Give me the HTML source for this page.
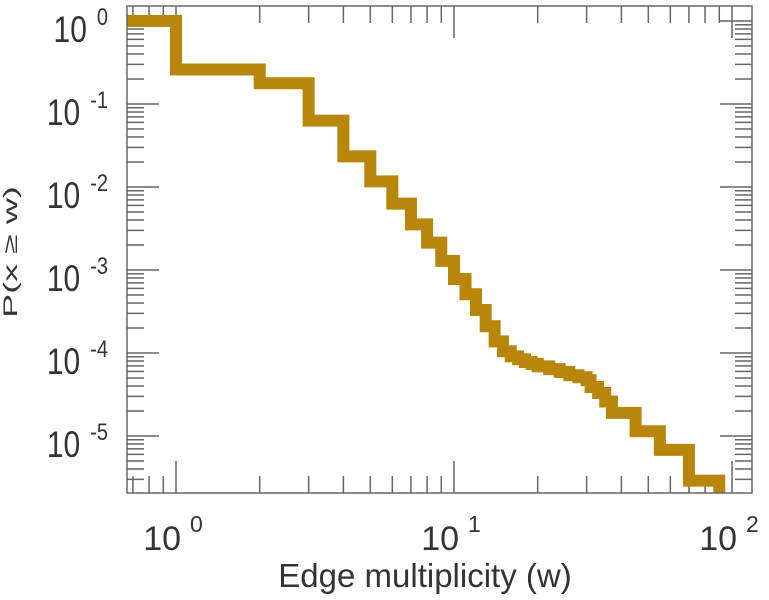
<!DOCTYPE html>
<html><head><meta charset="utf-8">
<style>
html,body{margin:0;padding:0;background:#fff;}
svg{display:block;font-family:"Liberation Sans",sans-serif;}
</style></head>
<body>
<svg id="chart" width="769" height="600" viewBox="0 0 769 600" xmlns="http://www.w3.org/2000/svg">
  <g id="ticks"></g>
  <g id="series"></g>
  <rect x="127" y="6" width="625" height="487" fill="none" stroke="#666" stroke-width="1.5"/>
  <g id="labels"></g>
  <text x="425" y="587" font-size="33" text-anchor="middle" fill="#333">Edge multiplicity (w)</text>
  <text transform="translate(17,252) scale(0.55,1) rotate(-90)" font-size="36" text-anchor="middle" fill="#333">P(x ≥ w)</text>
</svg>
<script>
const stepW = [0.667, 1, 2, 3, 4, 5, 6, 7, 8, 9, 10, 11, 12, 13, 14, 15, 16, 17, 18, 19, 20, 22, 24, 26, 28, 30, 31, 33, 35, 37, 45, 55, 70, 90];
const stepP = [1.0, 0.26, 0.178, 0.063, 0.0234, 0.0117, 0.0063, 0.00355, 0.00214, 0.00129, 0.00078, 0.00051, 0.00033, 0.00021, 0.000138, 0.000105, 0.000091, 0.000084, 0.000078, 0.000074, 0.000069, 0.000064, 0.000059, 0.000054, 0.000051, 0.000047, 0.000039, 0.000033, 0.000026, 0.000019, 0.0000114, 0.0000068, 0.0000029];
const xTickExp = ["0", "1", "2"];
const yTickExp = ["0", "-1", "-2", "-3", "-4", "-5"];

const NS = "http://www.w3.org/2000/svg";
const L = 127, R = 752, T = 6, B = 493;
function xs(w){ return 176 + 278 * Math.log10(w); }
function ys(p){ return 21 - 83 * Math.log10(p); }

function mk(tag, attrs, parent){
  const e = document.createElementNS(NS, tag);
  for (const k in attrs) e.setAttribute(k, attrs[k]);
  parent.appendChild(e);
  return e;
}

const tg = document.getElementById('ticks');
for (let d = -1; d <= 2; d++) {
  for (let m = 1; m <= 9; m++) {
    const w = m * Math.pow(10, d);
    const x = xs(w);
    if (x < L || x > R) continue;
    const len = m === 1 ? 32 : 17;
    const t1 = mk('line', {x1:x, x2:x, y1:B, y2:B-len, stroke:'#666', 'stroke-width':1.5}, tg);
    
    
    const t2 = mk('line', {x1:x, x2:x, y1:T, y2:T+len, stroke:'#666', 'stroke-width':1.5}, tg);
    
    
  }
}
for (let d = -6; d <= 0; d++) {
  for (let m = 1; m <= 9; m++) {
    const p = m * Math.pow(10, d);
    const y = ys(p);
    if (y < T || y > B) continue;
    const len = m === 1 ? 32 : 17;
    const t1 = mk('line', {x1:L, x2:L+len, y1:y, y2:y, stroke:'#666', 'stroke-width':1.5}, tg);
    
    
    const t2 = mk('line', {x1:R, x2:R-len, y1:y, y2:y, stroke:'#666', 'stroke-width':1.5}, tg);
    
    
  }
}

let d = '';
for (let i = 0; i < stepP.length; i++) {
  const x0 = Math.max(xs(stepW[i]), L), x1 = xs(stepW[i+1]), y = ys(stepP[i]);
  d += (i === 0 ? 'M' : 'L') + x0 + ',' + y + ' L' + x1 + ',' + y + ' ';
}
d += 'L' + xs(stepW[stepW.length-1]) + ',' + B;
const sg = document.getElementById('series');
const path = mk('path', {d:d, fill:'none', stroke:'#b8860b', 'stroke-width':12, 'stroke-linejoin':'miter', 'stroke-linecap':'butt'}, sg);


const clip = mk('clipPath', {id:'pc'}, document.getElementById('chart'));
mk('rect', {x:L, y:T, width:R-L, height:B-T}, clip);
sg.setAttribute('clip-path', 'url(#pc)');

const lg = document.getElementById('labels');
xTickExp.forEach((e) => {
  const x = xs(Math.pow(10, Number(e)));
  const t = mk('text', {x:x-3, y:550, 'font-size':34, 'text-anchor':'middle', fill:'#333'}, lg);
  
  
  const a = mk('tspan', {}, t);
  a.textContent = '10';
  const s = mk('tspan', {dx:9, dy:-18, 'font-size':23}, t);
  s.textContent = e;
});
yTickExp.forEach((e) => {
  const y = ys(Math.pow(10, Number(e)));
  const t = mk('text', {x:0, y:0, transform:'translate(108,' + (y+21) + ') scale(1,1.22)', 'font-size':30, 'text-anchor':'end', fill:'#333'}, lg);
  
  
  const a = mk('tspan', {}, t);
  a.textContent = '10';
  const s = mk('tspan', {dx:10, dy:-14, 'font-size':20}, t);
  s.textContent = e;
});
</script>
</body></html>
